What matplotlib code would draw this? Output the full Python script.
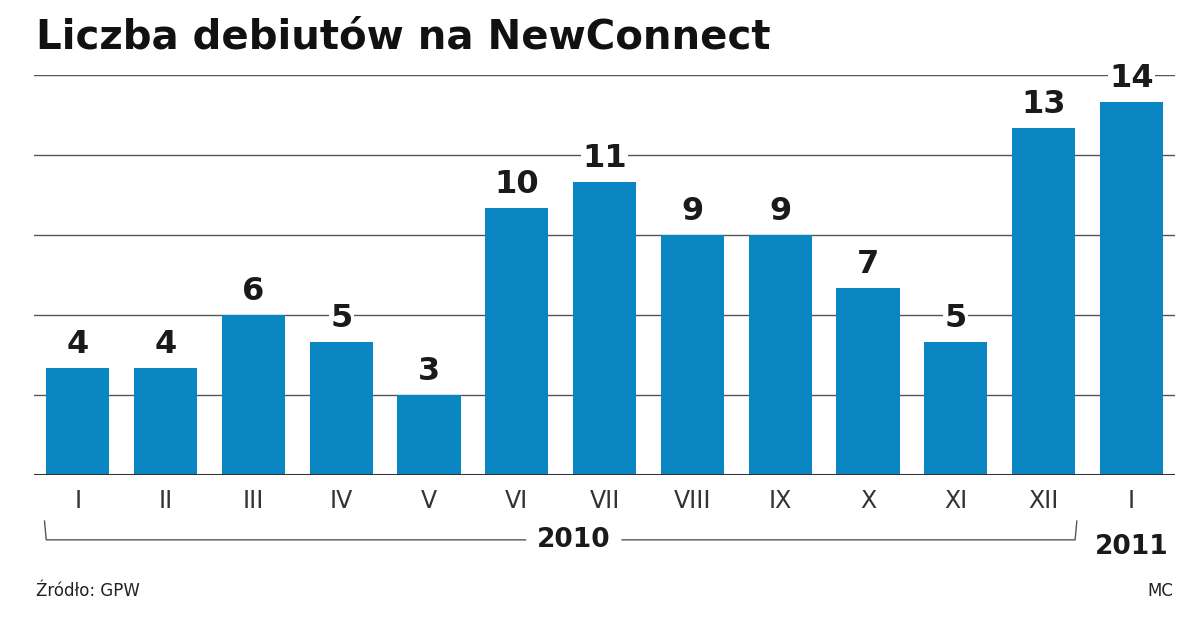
import matplotlib.pyplot as plt
import matplotlib.transforms as mtransforms

months = ['I', 'II', 'III', 'IV', 'V', 'VI', 'VII', 'VIII', 'IX', 'X', 'XI', 'XII', 'I']
debuts = [4, 4, 6, 5, 3, 10, 11, 9, 9, 7, 5, 13, 14]

blue = '#0a86c2'

fig = plt.figure(figsize=(12, 6.21), dpi=100)
ax = fig.add_axes([0.0283, 0.235, 0.951, 0.644])
x = range(len(months))
ax.bar(x, debuts, width=0.72, color=blue, zorder=2)
for i, v in zip(x, debuts):
    ax.text(i, v + 0.3, str(v), ha='center', va='bottom', fontsize=23,
            fontweight='heavy', color='#1a1a1a',
            bbox=dict(facecolor='white', edgecolor='none', pad=1), zorder=3)

ax.set_xlim(-0.5, 12.5)
ax.set_ylim(0, 15)
for y in [3, 6, 9, 12, 15]:
    ax.axhline(y, color='#555555', lw=1, zorder=1)
ax.axhline(0, color='#333333', lw=1.5, zorder=3)
for s in ax.spines.values():
    s.set_visible(False)
ax.set_yticks([])
ax.set_xticks(list(x))
ax.set_xticklabels(months, fontsize=17, color='#333333')
ax.tick_params(axis='x', length=0, pad=10)

# brace under 2010
tr = mtransforms.blended_transform_factory(ax.transData, ax.transAxes)
ax.plot([-0.38, -0.36, 5.1], [-0.115, -0.162, -0.162], color='#555555', lw=1,
        transform=tr, clip_on=False)
ax.plot([6.2, 11.36, 11.38], [-0.162, -0.162, -0.115], color='#555555', lw=1,
        transform=tr, clip_on=False)
ax.text(5.65, -0.162, '2010', transform=tr, ha='center', va='center',
        fontsize=19, fontweight='heavy', color='#1a1a1a')
ax.text(12, -0.18, '2011', transform=tr, ha='center', va='center',
        fontsize=19, fontweight='heavy', color='#1a1a1a')

fig.text(0.03, 0.94, 'Liczba debiutów na NewConnect', fontsize=29,
         fontweight='heavy', color='#111111', va='center')
fig.text(0.03, 0.048, 'Źródło: GPW', fontsize=12, color='#222222', va='center')
fig.text(0.978, 0.048, 'MC', fontsize=12, color='#222222', va='center', ha='right')

fig.savefig('out.png', dpi=100, facecolor='white')
